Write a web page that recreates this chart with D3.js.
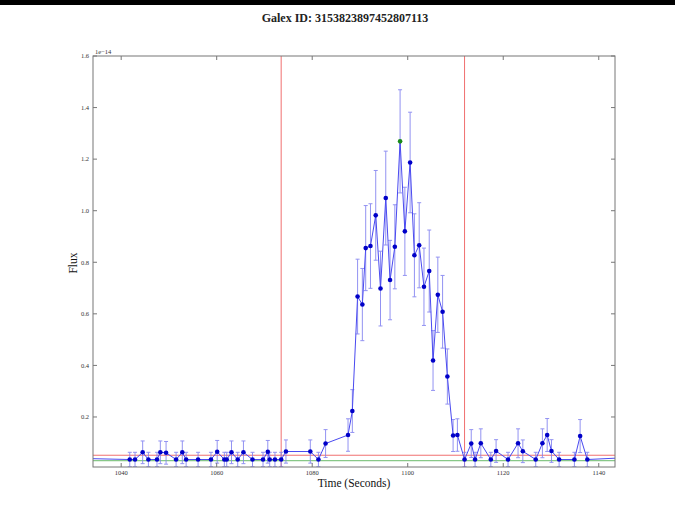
<!DOCTYPE html>
<html>
<head>
<meta charset="utf-8">
<script src="https://cdn.jsdelivr.net/npm/d3@7"></script>
<style>
  html, body { margin: 0; padding: 0; background: #fff; }
  svg { display: block; font-family: "Liberation Serif", "DejaVu Serif", serif; }
</style>
</head>
<body>
<svg id="chart" width="675" height="516"></svg>
<script>
// Light curve samples (flux in units of 1e-14)
const times = [1030.0, 1041.8, 1042.9, 1044.5, 1045.7, 1047.5, 1048.2, 1049.4, 1051.5, 1052.8,
  1053.6, 1056.1, 1058.8, 1060.1, 1061.6, 1062.1, 1063.1, 1064.4, 1065.6, 1067.5,
  1069.7, 1070.7, 1071.1, 1072.2, 1073.5, 1074.5, 1079.6, 1081.3, 1082.8, 1087.5,
  1088.4, 1089.5, 1090.5, 1091.2, 1092.2, 1093.3, 1094.3, 1095.4, 1096.3, 1097.3,
  1098.4, 1099.4, 1100.5, 1101.4, 1102.4, 1103.4, 1104.5, 1105.3, 1106.3, 1107.3,
  1108.3, 1109.5, 1110.4, 1111.9, 1113.3, 1114.1, 1115.3, 1117.4, 1118.5, 1121.0,
  1123.1, 1124.1, 1126.8, 1128.2, 1129.2, 1130.1, 1131.7, 1134.9, 1136.1, 1137.6,
  1150.0];
const flux = [0.040, 0.035, 0.035, 0.063, 0.035, 0.035, 0.063, 0.061, 0.035, 0.063,
  0.035, 0.035, 0.035, 0.065, 0.035, 0.035, 0.063, 0.035, 0.063, 0.035,
  0.035, 0.065, 0.035, 0.035, 0.035, 0.066, 0.066, 0.035, 0.097, 0.130,
  0.223, 0.667, 0.636, 0.855, 0.863, 0.982, 0.698, 1.049, 0.731, 0.860,
  1.269, 0.920, 1.187, 0.827, 0.866, 0.705, 0.766, 0.419, 0.674, 0.608,
  0.357, 0.128, 0.130, 0.035, 0.097, 0.035, 0.098, 0.035, 0.068, 0.035,
  0.098, 0.067, 0.035, 0.098, 0.130, 0.068, 0.035, 0.035, 0.126, 0.035,
  0.046];
const fluxErr = [0, 0.028, 0.028, 0.044, 0.028, 0.028, 0.044, 0.044, 0.028, 0.044,
  0.028, 0.028, 0.028, 0.044, 0.028, 0.028, 0.044, 0.028, 0.044, 0.028,
  0.028, 0.044, 0.028, 0.028, 0.028, 0.045, 0.045, 0.028, 0.054, 0.063,
  0.083, 0.145, 0.140, 0.165, 0.164, 0.174, 0.145, 0.182, 0.154, 0.163,
  0.200, 0.171, 0.195, 0.161, 0.165, 0.150, 0.159, 0.116, 0.146, 0.141,
  0.107, 0.062, 0.063, 0.028, 0.054, 0.028, 0.056, 0.028, 0.044, 0.028,
  0.056, 0.044, 0.028, 0.056, 0.064, 0.044, 0.028, 0.028, 0.064, 0.028,
  0];

// Reference levels and flare window
const thresholdLevel = [0.0516];   // red horizontal
const backgroundLevel = [0.031];   // green horizontal
const flareWindow = [1073.5, 1111.9]; // red vertical lines

const xTicks = [1040, 1060, 1080, 1100, 1120, 1140];
const yTicks = [0.2, 0.4, 0.6, 0.8, 1.0, 1.2, 1.4, 1.6];
const xDomain = [1034.1, 1143.4];
const yDomain = [0.006, 1.6];

const titleText = "Galex ID: 3153823897452807113";
const xLabel = "Time (Seconds)";
const yLabel = "Flux";
const offsetText = "1e\u221214";

const svg = d3.select("#chart");
const W = 675, H = 516;
const margin = { top: 56, right: 60, bottom: 49, left: 93 };
const iw = W - margin.left - margin.right;
const ih = H - margin.top - margin.bottom;

svg.append("rect").attr("width", W).attr("height", H).attr("fill", "#fff");
svg.append("rect").attr("width", W).attr("height", 5).attr("fill", "#000");

const x = d3.scaleLinear().domain(xDomain).range([0, iw]);
const y = d3.scaleLinear().domain(yDomain).range([ih, 0]);

const g = svg.append("g").attr("transform", `translate(${margin.left},${margin.top})`);

g.append("defs").append("clipPath").attr("id", "plotclip")
  .append("rect").attr("width", iw).attr("height", ih);

const plot = g.append("g").attr("clip-path", "url(#plotclip)");

const pts = times.map((t, i) => ({ t, f: flux[i], e: fluxErr[i] }));
const peak = d3.maxIndex(flux);

// reference lines
plot.selectAll("line.hred").data(thresholdLevel).join("line")
  .attr("x1", 0).attr("x2", iw).attr("y1", d => y(d)).attr("y2", d => y(d))
  .attr("stroke", "#f07070").attr("stroke-width", 1);
plot.selectAll("line.hgreen").data(backgroundLevel).join("line")
  .attr("x1", 0).attr("x2", iw).attr("y1", d => y(d)).attr("y2", d => y(d))
  .attr("stroke", "#88c888").attr("stroke-width", 1.2);
plot.selectAll("line.vred").data(flareWindow).join("line")
  .attr("x1", d => x(d)).attr("x2", d => x(d)).attr("y1", 0).attr("y2", ih)
  .attr("stroke", "#f07070").attr("stroke-width", 1);

// error bars
const eb = plot.append("g").attr("stroke", "#8080f0").attr("stroke-width", 1).attr("opacity", 0.85);
pts.filter(d => d.e > 0).forEach(d => {
  const cx = x(d.t), y0 = y(d.f - d.e), y1 = y(d.f + d.e);
  eb.append("line").attr("x1", cx).attr("x2", cx).attr("y1", y0).attr("y2", y1);
  eb.append("line").attr("x1", cx - 2).attr("x2", cx + 2).attr("y1", y0).attr("y2", y0);
  eb.append("line").attr("x1", cx - 2).attr("x2", cx + 2).attr("y1", y1).attr("y2", y1);
});

// connecting line
plot.append("path").datum(pts)
  .attr("fill", "none").attr("stroke", "#4a4af0").attr("stroke-width", 1)
  .attr("d", d3.line().x(d => x(d.t)).y(d => y(d.f)));

// markers
plot.selectAll("circle.pt").data(pts).join("circle")
  .attr("cx", d => x(d.t)).attr("cy", d => y(d.f)).attr("r", 2.3)
  .attr("fill", (d, i) => i === peak ? "#1a8a1a" : "#0000c8");

// frame
g.append("rect").attr("width", iw).attr("height", ih)
  .attr("fill", "none").attr("stroke", "#777").attr("stroke-width", 1);

const tickCol = "#777", tl = 4;
const tg = g.append("g").attr("stroke", tickCol).attr("stroke-width", 1);
xTicks.forEach(v => {
  tg.append("line").attr("x1", x(v)).attr("x2", x(v)).attr("y1", ih).attr("y2", ih - tl);
  tg.append("line").attr("x1", x(v)).attr("x2", x(v)).attr("y1", 0).attr("y2", tl);
});
yTicks.forEach(v => {
  tg.append("line").attr("x1", 0).attr("x2", tl).attr("y1", y(v)).attr("y2", y(v));
  tg.append("line").attr("x1", iw).attr("x2", iw - tl).attr("y1", y(v)).attr("y2", y(v));
});

g.selectAll("text.xt").data(xTicks).join("text")
  .attr("x", d => x(d)).attr("y", ih + 8).attr("text-anchor", "middle")
  .attr("font-size", 6.5).attr("fill", "#333").text(d => d);
g.selectAll("text.yt").data(yTicks).join("text")
  .attr("x", -4).attr("y", d => y(d) + 2.3).attr("text-anchor", "end")
  .attr("font-size", 6.5).attr("fill", "#333").text(d => d.toFixed(1));

g.append("text").attr("x", 2).attr("y", -2).attr("font-size", 6.5).attr("fill", "#333").text(offsetText);

svg.append("text").attr("x", 345).attr("y", 22).attr("text-anchor", "middle")
  .attr("font-size", 12).attr("font-weight", "bold").attr("fill", "#222").text(titleText);

svg.append("text").attr("x", margin.left + iw / 2).attr("y", 487).attr("text-anchor", "middle")
  .attr("font-size", 11.5).attr("fill", "#111").text(xLabel);

svg.append("text").attr("transform", `translate(77,263) rotate(-90)`).attr("text-anchor", "middle")
  .attr("font-size", 11.5).attr("fill", "#111").text(yLabel);
</script>
</body>
</html>
